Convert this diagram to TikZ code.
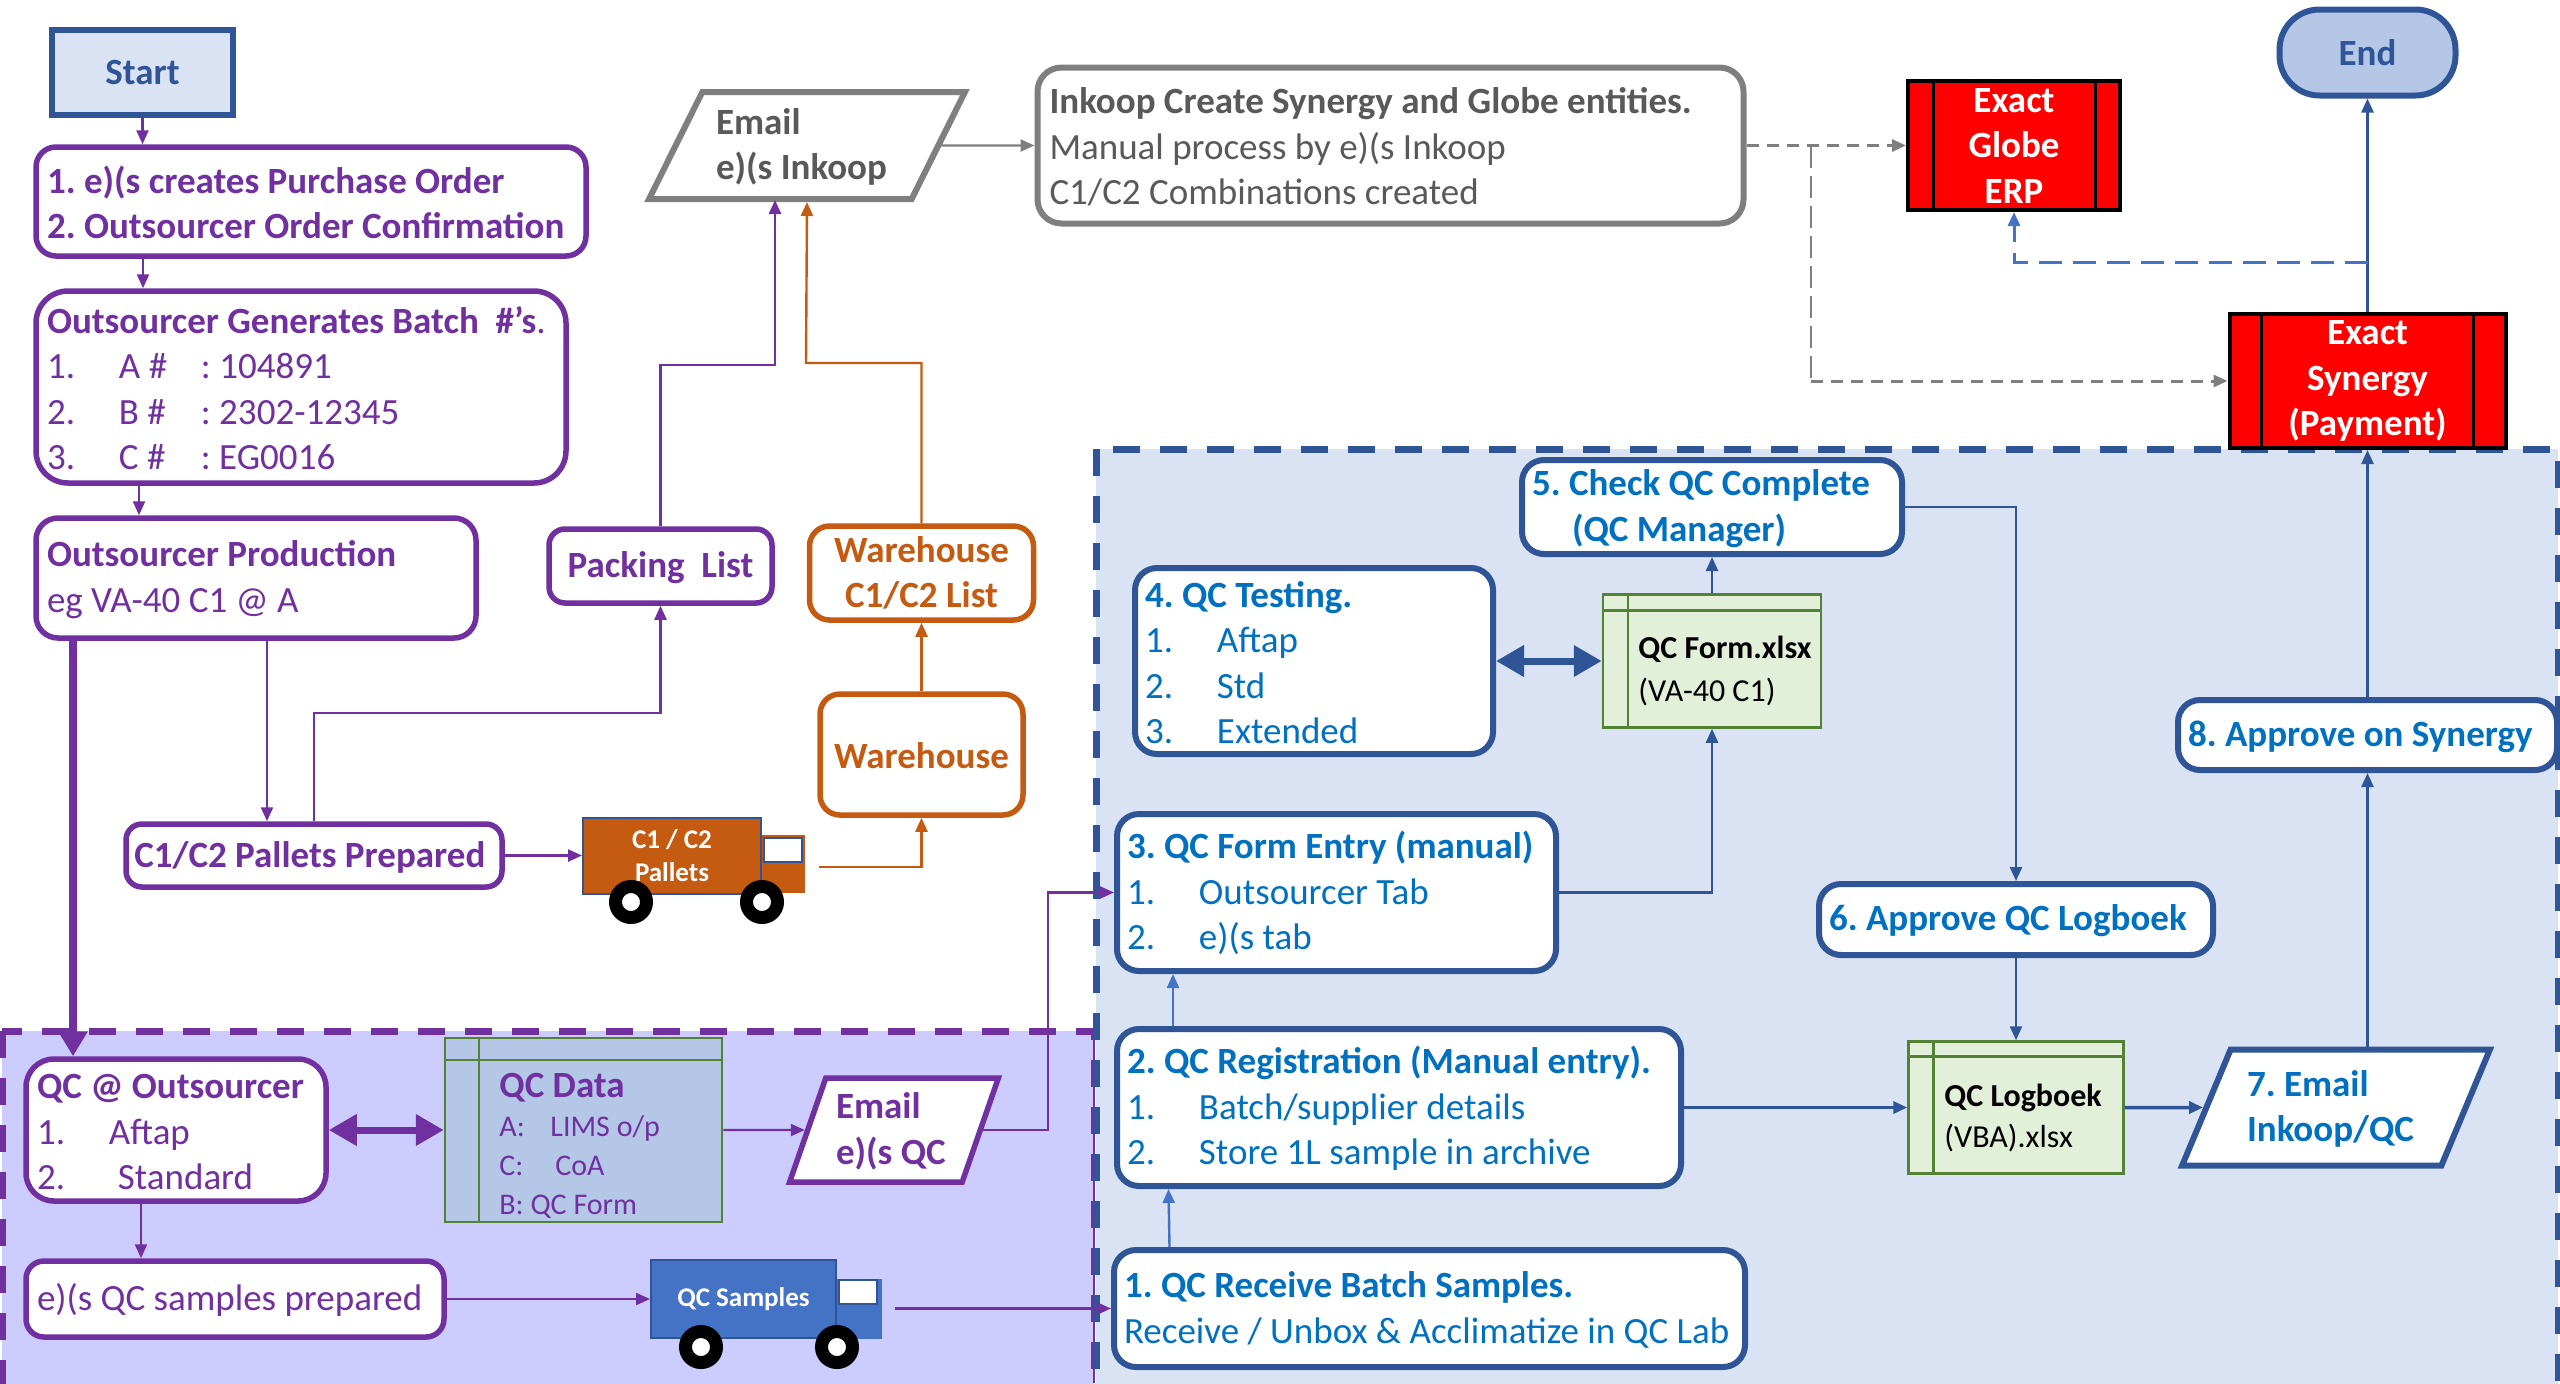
\documentclass[tikz,border=0pt]{standalone}
\usepackage{fontspec}
\setmainfont{Carlito}
\usetikzlibrary{arrows.meta, shapes.geometric}
\definecolor{mPurple}{HTML}{7030A0}
\definecolor{mOrange}{HTML}{C55A11}
\definecolor{mGray}{HTML}{7F7F7F}
\definecolor{mGrayText}{HTML}{595959}
\definecolor{mNavy}{HTML}{2F5597}
\definecolor{mBlue}{HTML}{4472C4}
\definecolor{mTextBlue}{HTML}{0070C0}
\definecolor{mPanelBlue}{HTML}{DAE3F3}
\definecolor{mPanelPurple}{HTML}{CCCCFF}
\definecolor{mSky}{HTML}{B4C7E7}
\definecolor{mLeaf}{HTML}{E2F0D9}
\definecolor{mMoss}{HTML}{548235}
\newcommand{\numitem}[1]{\makebox[36pt][l]{#1}}
\newcommand{\bodysize}{\fontsize{18.5}{22.75}\selectfont}
\frenchspacing
\tikzset{
	firstline/.style={execute at begin node={\rule{0pt}{14.5pt}}},
	flowbox/.style={rectangle, fill=white, inner sep=0pt, align=flush left, font=\bodysize, firstline},
	exactbox/.style={rectangle, draw=black, fill=red, line width=2pt, inner sep=0pt, align=center, text=white, font=\bodysize\bfseries, execute at begin node={\rule{0pt}{18pt}}},
	mailbox/.style={trapezium, trapezium stretches=true, fill=white, inner sep=0pt, align=flush left, font=\bodysize, firstline},
	sheetbox/.style={rectangle, draw=mMoss, line width=1.25pt, inner sep=0pt},
	wheelbox/.style={circle, draw=black, fill=white, line width=6.5pt, inner sep=0pt, minimum size=15.5pt},
	link/.style={line width=1.2pt, -{Triangle[length=7pt,width=6pt]}},
	biglink/.style={line width=3.5pt, {Triangle[length=14pt,width=15pt]}-{Triangle[length=14pt,width=15pt]}},
}
\begin{document}
\begin{tikzpicture}[x=.5pt, y=-.5pt]
		\path[use as bounding box, clip] (0,0) rectangle (2560,1383);
		% panels
		\draw[mPurple, fill=mPanelPurple, line width=3.5pt, dash pattern=on 13.5pt off 10pt] (2,1031) rectangle (1094,1500);
		\draw[mPurple, line width=1pt] (1094,1031) -- (1094,1383);
		\draw[mNavy, fill=mPanelBlue, line width=3.5pt, dash pattern=on 13.5pt off 10pt] (1096,449) rectangle (2558,1500);
		% start and end
		\node[rectangle, draw=mNavy, fill=mPanelBlue, line width=3pt, text=mNavy, font=\bodysize\bfseries, minimum width=90.5pt, minimum height=42.5pt] (start) at (142.5,72) {Start};
		\node[rectangle, rounded corners=20pt, draw=mNavy, fill=mSky, line width=3pt, text=mNavy, font=\bodysize\bfseries, minimum width=88pt, minimum height=43pt] (end) at (2367.5,52.5) {End};
		% purple boxes
		\foreach \cx/\cy/\w/\h/\rad/\name/\txt in {
			311/201.5/550/109/10/order/{\textbf{1. e)(s creates Purchase Order}\\\textbf{2. Outsourcer Order Confirmation}},
			301/387/530/192/16/batch/{\textbf{Outsourcer Generates Batch~ \#’s}.\\\numitem{1.}\makebox[41pt][l]{A \#}: 104891\\\numitem{2.}\makebox[41pt][l]{B \#}: 2302-12345\\\numitem{3.}\makebox[41pt][l]{C \#}: EG0016},
			256/578/440/120/11/production/{\textbf{Outsourcer Production}\\eg VA-40 C1 @ A},
			176/1130/300/142/14/qcout/{\textbf{QC @ Outsourcer}\\\numitem{1.}Aftap\\\makebox[40.5pt][l]{2.}Standard},
			235/1299/418/76/9/samples/{e)(s QC samples prepared}
		}{
			\node[flowbox, draw=mPurple, text=mPurple, line width=2.75pt, rounded corners=\rad pt, minimum width={\w*.5pt}, minimum height={\h*.5pt}, text width={(\w-22)*.5pt}] (\name) at (\cx,\cy) {\txt};
		}
		\foreach \cx/\cy/\w/\h/\name/\txt in {
			660.5/566/223/74/packing/{\textbf{Packing~ List}},
			314/855.5/376/63/pallets/{\textbf{C1/C2 Pallets Prepared}}
		}{
			\node[flowbox, align=center, draw=mPurple, text=mPurple, line width=2.75pt, rounded corners=8pt, minimum width={\w*.5pt}, minimum height={\h*.5pt}] (\name) at (\cx,\cy) {\txt};
		}
		% orange boxes
		\foreach \cx/\cy/\w/\h/\name/\txt in {
			921.5/573/224/94/whlist/{Warehouse\\C1/C2 List},
			921.5/754.5/203/121/warehouse/{Warehouse}}{
			\node[flowbox, align=center, draw=mOrange, text=mOrange, line width=2.75pt, rounded corners=10pt, font=\bodysize\bfseries, minimum width={\w*.5pt}, minimum height={\h*.5pt}] (\name) at (\cx,\cy) {\txt};
		}
		% gray box
		\node[flowbox, draw=mGray, text=mGrayText, line width=3pt, rounded corners=12pt, minimum width=353pt, minimum height=78pt, text width=341pt] (inkoop) at (1390.5,145.5) {\textbf{Inkoop Create Synergy and Globe entities.}\\Manual process by e)(s Inkoop\\C1/C2 Combinations created};
		% blue boxes
		\foreach \cx/\cy/\w/\h/\name/\txt in {
			1712/507/380/94/check/{\textbf{5. Check QC Complete}\\\hspace*{20pt}\textbf{(QC Manager)}},
			1314/661/358/186/testing/{\textbf{4. QC Testing.}\\\numitem{1.}Aftap\\\numitem{2.}Std\\\numitem{3.}Extended},
			1336.5/892.5/439/157/entry/{\textbf{3. QC Form Entry (manual)}\\\numitem{1.}Outsourcer Tab\\\numitem{2.}e)(s tab},
			1399/1107.5/564/157/registration/{\textbf{2. QC Registration (Manual entry).}\\\numitem{1.}Batch/supplier details\\\numitem{2.}Store 1L sample in archive},
			1429.5/1308.5/631/117/receive/{\textbf{1. QC Receive Batch Samples.}\\Receive / Unbox \& Acclimatize in QC Lab},
			2016/919.5/394/71/approveqc/{\textbf{6. Approve QC Logboek}},
			2367.5/735/379/70/approvesyn/{\textbf{8. Approve on Synergy}}
		}{
			\node[flowbox, draw=mNavy, text=mTextBlue, line width=3pt, rounded corners=11pt, minimum width={\w*.5pt}, minimum height={\h*.5pt}, text width={(\w-20)*.5pt}] (\name) at (\cx,\cy) {\txt};
		}
		% emails
		\node[mailbox, draw=mGray, text=mGrayText, line width=3pt, trapezium left angle=60, trapezium right angle=120, minimum width=158pt, minimum height=53.5pt, text width=91pt, font=\bodysize\bfseries] (mailinkoop) at (807,145.5) {Email\\e)(s Inkoop};
		\node[mailbox, draw=mPurple, text=mPurple, line width=2.75pt, trapezium left angle=69, trapezium right angle=111, minimum width=105pt, minimum height=52pt, text width=58pt, font=\bodysize\bfseries] (mailqc) at (894,1130) {Email\\e)(s QC};
		\node[mailbox, draw=mNavy, text=mTextBlue, line width=3pt, trapezium left angle=63, trapezium right angle=117, minimum width=154pt, minimum height=58pt, text width=89pt, font=\bodysize\bfseries] (mailseven) at (2336,1107.5) {7. Email\\Inkoop/QC};
		% exact boxes
		\node[exactbox, minimum width=106pt, minimum height=64.5pt] (globe) at (2014,145.5) {Exact\\Globe\\ERP};
		\node[exactbox, minimum width=138pt, minimum height=67pt] (synergy) at (2367.5,381) {Exact\\Synergy\\(Payment)};
		\foreach \name/\dx in {globe/13.5pt, synergy/17pt}{
			\draw[black, line width=1.5pt] ([xshift=\dx]\name.north west) -- ([xshift=\dx]\name.south west);
			\draw[black, line width=1.5pt] ([xshift=-\dx]\name.north east) -- ([xshift=-\dx]\name.south east);
		}
		% spreadsheets
		\foreach \cx/\cy/\w/\h/\dx/\dy/\name/\col in {
			583.5/1130/277/184/17.5pt/11.5pt/qcdata/mSky,
			1712/661/218/133/13pt/8.5pt/qcform/mLeaf,
			2016/1107.5/215/132/13pt/8pt/logboek/mLeaf}{
			\node[sheetbox, fill=\col, minimum width={\w*.5pt}, minimum height={\h*.5pt}] (\name) at (\cx,\cy) {};
			\draw[mMoss, line width=1.25pt] ([xshift=\dx]\name.north west) -- ([xshift=\dx]\name.south west);
			\draw[mMoss, line width=1.25pt] ([yshift=-\dy]\name.north west) -- ([yshift=-\dy]\name.north east);
		}
		\node[anchor=west, align=left, inner sep=0pt, text=mPurple, font=\fontsize{15}{19.5}\selectfont] (qcdatatext) at (499,1146) {\fontsize{18.5}{19.5}\selectfont\textbf{QC Data}\\\makebox[25.5pt][l]{A:}LIMS o/p\\\makebox[28pt][l]{C:}CoA\\B: QC Form};
		\node[anchor=west, align=left, inner sep=0pt, text=black, font=\fontsize{16}{21.5}\selectfont] (qcformtext) at (1638,671) {\textbf{QC Form.xlsx}\\(VA-40 C1)};
		\node[anchor=west, align=left, inner sep=0pt, text=black, font=\fontsize{16}{20.5}\selectfont] (logboektext) at (1944,1118) {\textbf{QC Logboek}\\(VBA).xlsx};
		% trucks
		\node[rectangle, draw=mOrange, fill=mOrange, line width=1pt, minimum width=21pt, minimum height=28pt] (cabone) at (783,863.5) {};
		\node[rectangle, draw=mNavy, fill=white, line width=1pt, minimum width=19pt, minimum height=12pt] (windowone) at (782.5,849.5) {};
		\node[rectangle, draw=mNavy, fill=mOrange, line width=1pt, minimum width=89pt, minimum height=38pt, align=center, text=white, font=\fontsize{13.5}{16.5}\selectfont\bfseries] (truckone) at (672,855.5) {C1 / C2\\Pallets};
		\node[wheelbox] (wheelonea) at (631,902) {};
		\node[wheelbox] (wheeloneb) at (762,902) {};
		\coordinate (truckoneout) at (819,867);
		\node[rectangle, draw=mBlue, fill=mBlue, line width=1pt, minimum width=22pt, minimum height=29pt] (cabtwo) at (859,1309) {};
		\node[rectangle, draw=mNavy, fill=white, line width=1pt, minimum width=19pt, minimum height=12pt] (windowtwo) at (858,1292) {};
		\node[rectangle, draw=mNavy, fill=mBlue, line width=1pt, minimum width=92.5pt, minimum height=39pt, align=center, text=white, font=\fontsize{13.5}{16}\selectfont\bfseries] (trucktwo) at (743.5,1299) {QC Samples};
		\node[wheelbox] (wheeltwoa) at (701,1347) {};
		\node[wheelbox] (wheeltwob) at (837,1347) {};
		\coordinate (trucktwoout) at (895,1308.5);
		% purple links
		\draw[link, mPurple] (start.south) -- (start.south |- order.north);
		\draw[link, mPurple] ([xshift=-84pt]order.south) -- ([xshift=-79pt]batch.north);
		\draw[link, mPurple] ([xshift=-81pt]batch.south) -- ([xshift=-58.5pt]production.north);
		\draw[mPurple, line width=4pt, -{Triangle[length=12.5pt,width=14pt]}] ([xshift=-91.5pt]production.south) -- ([xshift=-51.5pt]qcout.north);
		\draw[link, mPurple] ([xshift=5.5pt]production.south) -- ([xshift=-23.5pt]pallets.north);
		\draw[link, mPurple] (pallets.north) |- (660.5,713) -- (packing.south);
		\draw[link, mPurple] (packing.north) |- (775,365) -- (775,200);
		\draw[link, mPurple] (pallets.east) -- (truckone.west);
		\draw[biglink, mPurple] (qcout.east) -- (qcdata.west);
		\draw[link, mPurple] (qcdata.east) -- (mailqc.west);
		\draw[link, mPurple] (mailqc.east) -| (1048,892.5) -- (entry.west);
		\draw[link, mPurple] ([xshift=-17.5pt]qcout.south) -- ([xshift=-47pt]samples.north);
		\draw[link, mPurple] (samples.east) -- (trucktwo.west);
		\draw[link, mPurple] (trucktwoout) -- (receive.west);
		% orange links
		\draw[link, mOrange] (truckoneout) -| (warehouse.south);
		\draw[link, mOrange] (warehouse.north) -- (whlist.south);
		\draw[link, mOrange] (whlist.north) |- (806,363) -- (mailinkoop.south);
		% gray links
		\draw[link, mGray] (mailinkoop.east) -- (inkoop.west);
		\coordinate (dashbranch) at (1811,145.5);
		\draw[link, mGray, dash pattern=on 6pt off 4pt, line width=1.5pt] (inkoop.east) -- (globe.west);
		\draw[mGray, line width=.8pt, dash pattern=on 11pt off 4pt] (dashbranch) -- (dashbranch |- synergy.west);
		\draw[link, mGray, dash pattern=on 6pt off 4pt, line width=1.5pt] (dashbranch |- synergy.west) -- (synergy.west);
		% blue links
		\coordinate (paybranch) at (2367.5,262);
		\draw[link, mNavy] (synergy.north) -- (end.south);
		\draw[link, mBlue, dash pattern=on 11.5pt off 5.5pt, line width=1.5pt] (paybranch) -| (globe.south);
		\draw[link, mNavy] (approvesyn.north) -- (synergy.south);
		\draw[link, mNavy] (approvesyn.south |- mailseven.north) -- (approvesyn.south);
		\draw[link, mNavy] (check.east) -| (approveqc.north);
		\draw[link, mNavy] (approveqc.south) -- (logboek.north);
		\draw[link, mNavy, line width=1.75pt] (registration.east) -- (logboek.west);
		\draw[link, mNavy, line width=1.75pt] (logboek.east) -- (mailseven.west);
		\draw[link, mNavy] (qcform.north) -- (check.south);
		\draw[link, mNavy] (entry.east) -| (qcform.south);
		\draw[biglink, mNavy] (testing.east) -- (qcform.west);
		\draw[link, mBlue] ([xshift=-113pt]registration.north) -- ([xshift=-81.75pt]entry.south);
		\draw[link, mBlue] ([xshift=-130pt]receive.north) -- ([xshift=-115.25pt]registration.south);
	\end{tikzpicture}
\end{document}
